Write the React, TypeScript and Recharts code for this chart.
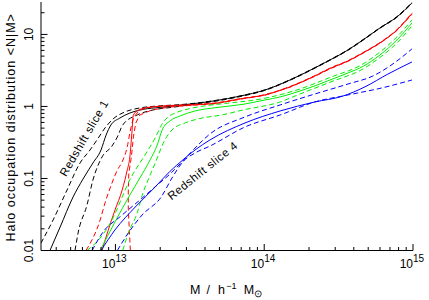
import React from 'react';
import { LineChart, Line, XAxis, YAxis, ReferenceDot } from 'recharts';

type Pt = [number, number];

// [halo mass in h^-1 Msun, <N|M>]
const blackSolid: Pt[] = [
  [3.63e12, 0.01], [4.25e12, 0.0212], [5.19e12, 0.0553], [6.05e12, 0.098], [7.06e12, 0.164],
  [8.0e12, 0.249], [8.65e12, 0.4], [9.33e12, 0.554], [1.07e13, 0.69], [1.25e13, 0.81],
  [1.53e13, 0.91], [2.0e13, 0.97], [2.72e13, 1.04], [3.43e13, 1.1], [4.67e13, 1.2],
  [6.87e13, 1.39], [1.01e14, 1.69], [1.49e14, 2.33], [2.19e14, 3.43], [2.77e14, 4.42],
  [3.66e14, 6.09], [4.61e14, 8.39], [6.0e14, 12.3], [7.8e14, 17.5], [9.84e14, 27.4],
];
const blackLow: Pt[] = [
  [3.16e12, 0.0127], [3.81e12, 0.0265], [4.73e12, 0.0692], [5.78e12, 0.164], [6.75e12, 0.249],
  [7.52e12, 0.343], [8.51e12, 0.503], [9.64e12, 0.67], [1.16e13, 0.84], [1.46e13, 0.953],
  [2.0e13, 1.02], [2.72e13, 1.06], [3.43e13, 1.11], [4.67e13, 1.21], [6.87e13, 1.4],
  [1.01e14, 1.7], [1.49e14, 2.35], [2.19e14, 3.46], [2.77e14, 4.46], [3.66e14, 6.14],
  [4.61e14, 8.46], [6.0e14, 12.4], [7.8e14, 17.7], [9.84e14, 27.8],
];
const blackHigh: Pt[] = [
  [5.35e12, 0.01], [5.61e12, 0.0175], [6.44e12, 0.0428], [7.06e12, 0.0953], [8.13e12, 0.199],
  [9.48e12, 0.282], [1.03e13, 0.377], [1.12e13, 0.554], [1.4e13, 0.762], [1.79e13, 0.894],
  [2.52e13, 0.984], [3.43e13, 1.08], [4.67e13, 1.18], [6.87e13, 1.37], [1.01e14, 1.67],
  [1.49e14, 2.31], [2.19e14, 3.4], [2.77e14, 4.38], [3.66e14, 6.03], [4.61e14, 8.3],
  [6.0e14, 12.2], [7.8e14, 17.3], [9.84e14, 27.0],
];

const redSolid: Pt[] = [
  [8.13e12, 0.01], [8.91e12, 0.0187], [9.93e12, 0.0365], [1.11e13, 0.0692], [1.2e13, 0.131],
  [1.25e13, 0.199], [1.29e13, 0.429], [1.32e13, 0.762], [1.42e13, 0.88], [1.66e13, 0.97],
  [2.26e13, 1.02], [3.32e13, 1.05], [4.67e13, 1.1], [6.87e13, 1.27], [1.01e14, 1.445],
  [1.49e14, 1.87], [2.19e14, 2.65], [2.77e14, 3.37], [3.66e14, 4.28], [4.61e14, 5.53],
  [6.0e14, 7.62], [7.8e14, 11.5], [9.84e14, 19.5],
];
const redLow: Pt[] = [
  [6.34e12, 0.01], [7.89e12, 0.0265], [8.51e12, 0.0457], [9.48e12, 0.0866], [1.03e13, 0.131],
  [1.11e13, 0.17], [1.2e13, 0.274], [1.25e13, 0.429], [1.31e13, 0.649], [1.4e13, 0.81],
  [1.58e13, 0.94], [2.15e13, 1.02], [3.32e13, 1.06], [4.67e13, 1.12], [6.87e13, 1.28],
  [1.01e14, 1.46], [1.49e14, 1.89], [2.19e14, 2.68], [2.77e14, 3.41], [3.66e14, 4.33],
  [4.61e14, 5.6], [6.0e14, 7.72], [7.8e14, 11.7], [9.84e14, 19.9],
];
const redHigh: Pt[] = [
  [1.26e13, 0.01], [1.24e13, 0.0193], [1.22e13, 0.0365], [1.22e13, 0.0692], [1.23e13, 0.119],
  [1.28e13, 0.199], [1.32e13, 0.377], [1.37e13, 0.59], [1.46e13, 0.762], [1.76e13, 0.894],
  [2.33e13, 0.984], [3.71e13, 1.06], [4.67e13, 1.09], [6.87e13, 1.26], [1.01e14, 1.43],
  [1.49e14, 1.85], [2.19e14, 2.62], [2.77e14, 3.33], [3.66e14, 4.23], [4.61e14, 5.47],
  [6.0e14, 7.52], [7.8e14, 11.3], [9.84e14, 19.1],
];

const greenSolid: Pt[] = [
  [7.89e12, 0.01], [9.93e12, 0.0249], [1.25e13, 0.059], [1.46e13, 0.1016], [1.71e13, 0.181],
  [1.91e13, 0.292], [2.06e13, 0.472], [2.33e13, 0.63], [2.72e13, 0.738], [3.43e13, 0.866],
  [4.67e13, 0.96], [7.2e13, 1.07], [1.01e14, 1.23], [1.28e14, 1.355], [1.74e14, 1.64],
  [2.19e14, 1.93], [2.77e14, 2.33], [3.66e14, 2.92], [4.61e14, 3.6], [6.0e14, 5.19],
  [7.8e14, 8.39], [9.84e14, 14.4],
];
const greenLow: Pt[] = [
  [6.44e12, 0.01], [8.0e12, 0.0154], [9.48e12, 0.0265], [1.11e13, 0.0553], [1.22e13, 0.0866],
  [1.36e13, 0.131], [1.46e13, 0.164], [1.66e13, 0.249], [1.85e13, 0.365], [2.06e13, 0.571],
  [2.26e13, 0.715], [2.52e13, 0.81], [3.08e13, 0.923], [4.0e13, 1.02], [5.46e13, 1.1],
  [1.01e14, 1.3], [1.74e14, 1.75], [2.77e14, 2.53], [4.61e14, 3.89], [6.0e14, 5.7],
  [7.8e14, 9.23], [9.84e14, 15.9],
];
const greenHigh: Pt[] = [
  [1.12e13, 0.01], [1.22e13, 0.0175], [1.4e13, 0.0332], [1.53e13, 0.063], [1.68e13, 0.1016],
  [1.85e13, 0.164], [2.15e13, 0.343], [2.4e13, 0.472], [2.94e13, 0.59], [3.82e13, 0.69],
  [5.2e13, 0.762], [7.2e13, 0.894], [1.28e14, 1.155], [1.74e14, 1.49], [2.77e14, 2.17],
  [4.61e14, 3.32], [6.0e14, 4.8], [7.8e14, 7.62], [9.84e14, 13.1],
];

const blueSolid: Pt[] = [
  [8.0e12, 0.01], [9.93e12, 0.0193], [1.36e13, 0.0402], [1.85e13, 0.0762], [2.33e13, 0.126],
  [2.84e13, 0.181], [3.43e13, 0.249], [4.32e13, 0.343], [7.43e13, 0.59], [1.28e14, 0.866],
  [2.19e14, 1.155], [3.33e14, 1.38], [4.75e14, 1.87], [6.79e14, 2.82], [9.84e14, 4.15],
];
const blueLow: Pt[] = [
  [6.97e12, 0.01], [8.26e12, 0.0181], [1.07e13, 0.0292], [1.46e13, 0.0502], [1.91e13, 0.0812],
  [2.33e13, 0.1155], [2.84e13, 0.175], [3.43e13, 0.265], [4.32e13, 0.415], [7.43e13, 0.715],
  [1.28e14, 1.05], [2.19e14, 1.49], [3.66e14, 2.05], [5.38e14, 2.65], [7.8e14, 4.28],
  [9.84e14, 6.3],
];
const blueHigh: Pt[] = [
  [1.03e13, 0.01], [1.22e13, 0.0175], [1.51e13, 0.0311], [2.03e13, 0.0553], [2.4e13, 0.1016],
  [2.84e13, 0.17], [3.43e13, 0.226], [4.32e13, 0.282], [7.43e13, 0.519], [1.28e14, 0.762],
  [2.19e14, 1.155], [3.66e14, 1.445], [6.19e14, 1.81], [9.84e14, 2.33],
];

const massTicks = [
  4e12, 5e12, 6e12, 7e12, 8e12, 9e12,
  1e13, 2e13, 3e13, 4e13, 5e13, 6e13, 7e13, 8e13, 9e13,
  1e14, 2e14, 3e14, 4e14, 5e14, 6e14, 7e14, 8e14, 9e14, 1e15,
];
const massDecades = [1e13, 1e14, 1e15];
const massExponents = ['13', '14', '15'];

const occTicks = [
  0.01, 0.02, 0.03, 0.04, 0.05, 0.06, 0.07, 0.08, 0.09,
  0.1, 0.2, 0.3, 0.4, 0.5, 0.6, 0.7, 0.8, 0.9,
  1, 2, 3, 4, 5, 6, 7, 8, 9, 10, 20,
];
const occDecades = [0.01, 0.1, 1, 10];
const occLabels = ['0.01', '0.1', '1', '10'];

const sliceLabels = [
  { text: 'Redshift slice 1', m: 6.15e12, n: 0.365, angle: -60 },
  { text: 'Redshift slice 4', m: 3.85e13, n: 0.129, angle: -38.6 },
];

const FONT = '"Liberation Sans", Arial, Helvetica, sans-serif';
const MAJOR = 6.5;
const MINOR = 3.5;

const series = [
  { key: 'bk', pts: blackSolid, color: '#000000', dashed: false },
  { key: 'bk-lo', pts: blackLow, color: '#000000', dashed: true },
  { key: 'bk-hi', pts: blackHigh, color: '#000000', dashed: true },
  { key: 'rd', pts: redSolid, color: '#ff0000', dashed: false },
  { key: 'rd-lo', pts: redLow, color: '#ff0000', dashed: true },
  { key: 'rd-hi', pts: redHigh, color: '#ff0000', dashed: true },
  { key: 'gr', pts: greenSolid, color: '#00ee00', dashed: false },
  { key: 'gr-lo', pts: greenLow, color: '#00ee00', dashed: true },
  { key: 'gr-hi', pts: greenHigh, color: '#00ee00', dashed: true },
  { key: 'bl', pts: blueSolid, color: '#0000ff', dashed: false },
  { key: 'bl-lo', pts: blueLow, color: '#0000ff', dashed: true },
  { key: 'bl-hi', pts: blueHigh, color: '#0000ff', dashed: true },
];

const decadeIndex = (list: number[], v: number) =>
  list.findIndex((d) => Math.abs(v / d - 1) < 1e-6);

function MassTick(props: any) {
  const { x, y, payload, side } = props;
  const i = decadeIndex(massDecades, payload.value);
  const len = i >= 0 ? MAJOR : MINOR;
  const top = side === 'top';
  return (
    <g>
      <line x1={x} x2={x} y1={y} y2={top ? y + len : y - len} stroke="#000" strokeWidth={1} />
      {!top && i >= 0 && (
        <>
          <text x={x} y={y + 17.5} textAnchor="end" fontSize={12} fontFamily={FONT} fill="#000">
            10
          </text>
          <text x={x} y={y + 11.5} textAnchor="start" fontSize={10} fontFamily={FONT} fill="#000">
            {massExponents[i]}
          </text>
        </>
      )}
    </g>
  );
}

function OccTick(props: any) {
  const { x, y, payload, side } = props;
  const i = decadeIndex(occDecades, payload.value);
  const len = i >= 0 ? MAJOR : MINOR;
  const right = side === 'right';
  const lx = x - 8;
  return (
    <g>
      <line x1={x} x2={right ? x - len : x + len} y1={y} y2={y} stroke="#000" strokeWidth={1} />
      {!right && i >= 0 && (
        <text
          x={lx}
          y={y}
          transform={`rotate(-90 ${lx} ${y})`}
          textAnchor="middle"
          fontSize={12}
          fontFamily={FONT}
          fill="#000"
        >
          {occLabels[i]}
        </text>
      )}
    </g>
  );
}

function MassLabel(props: any) {
  const { x, y, width } = props.viewBox;
  const cx = x + width / 2;
  return (
    <text x={cx - 37} y={y + 43.5} fontSize={12.5} fontFamily={FONT} fill="#000">
      <tspan>M</tspan>
      <tspan dx={6}>/</tspan>
      <tspan dx={8}>h</tspan>
      <tspan dx={1.5} dy={-5.5} fontSize={9}>−1</tspan>
      <tspan dx={7} dy={5.5}>M</tspan>
      <tspan dy={3} fontSize={10}>⊙</tspan>
    </text>
  );
}

function OccLabel(props: any) {
  const { y, height } = props.viewBox;
  const cy = y + height / 2 + 1;
  return (
    <text
      x={15}
      y={cy}
      transform={`rotate(-90 15 ${cy})`}
      textAnchor="middle"
      fontSize={12.5}
      letterSpacing={1}
      fontFamily={FONT}
      fill="#000"
    >
      {'Halo occupation distribution <N|M>'}
    </text>
  );
}

function SliceText(props: any) {
  const { cx, cy, text, angle } = props;
  return (
    <text
      x={cx}
      y={cy}
      dy="0.35em"
      transform={`rotate(${angle} ${cx} ${cy})`}
      textAnchor="middle"
      fontSize={11.5}
      letterSpacing={0.5}
      fontFamily={FONT}
      fill="#000"
    >
      {text}
    </text>
  );
}

export default function App() {
  const massDomain = [3.16e12, 1e15];
  const occDomain = [0.01, 28.2];
  return (
    <div style={{ position: 'absolute', left: 0, top: 0, width: 429, height: 300, background: '#fff' }}>
      <LineChart width={429} height={300} margin={{ top: 2, right: 16, bottom: 0, left: 0 }}>
        <XAxis
          xAxisId={0}
          dataKey="m"
          type="number"
          scale="log"
          domain={massDomain}
          allowDataOverflow
          ticks={massTicks}
          interval={0}
          height={49.5}
          tickSize={0}
          tickMargin={0}
          tickLine={false}
          axisLine={{ stroke: '#000' }}
          tick={(p: any) => <MassTick {...p} side="bottom" />}
          label={(p: any) => <MassLabel {...p} />}
        />
        <XAxis
          xAxisId="top"
          orientation="top"
          type="number"
          scale="log"
          domain={massDomain}
          allowDataOverflow
          ticks={massTicks}
          interval={0}
          height={0}
          tickSize={0}
          tickMargin={0}
          tickLine={false}
          axisLine={{ stroke: '#000' }}
          tick={(p: any) => <MassTick {...p} side="top" />}
        />
        <YAxis
          yAxisId={0}
          type="number"
          scale="log"
          domain={occDomain}
          allowDataOverflow
          ticks={occTicks}
          interval={0}
          width={41}
          tickSize={0}
          tickMargin={0}
          tickLine={false}
          axisLine={{ stroke: '#000' }}
          tick={(p: any) => <OccTick {...p} side="left" />}
          label={(p: any) => <OccLabel {...p} />}
        />
        <YAxis
          yAxisId="right"
          orientation="right"
          type="number"
          scale="log"
          domain={occDomain}
          allowDataOverflow
          ticks={occTicks}
          interval={0}
          width={0}
          tickSize={0}
          tickMargin={0}
          tickLine={false}
          axisLine={{ stroke: '#000' }}
          tick={(p: any) => <OccTick {...p} side="right" />}
        />
        {series.map((s) => (
          <Line
            key={s.key}
            data={s.pts.map(([m, n]) => ({ m, n }))}
            dataKey="n"
            type={s.key === 'rd-hi' ? 'linear' : 'monotone'}
            stroke={s.color}
            strokeWidth={1}
            strokeDasharray={s.dashed ? '5 3' : undefined}
            dot={false}
            activeDot={false}
            isAnimationActive={false}
          />
        ))}
        {sliceLabels.map((l) => (
          <ReferenceDot
            key={l.text}
            x={l.m}
            y={l.n}
            r={0}
            shape={(p: any) => <SliceText {...p} text={l.text} angle={l.angle} />}
          />
        ))}
      </LineChart>
    </div>
  );
}
